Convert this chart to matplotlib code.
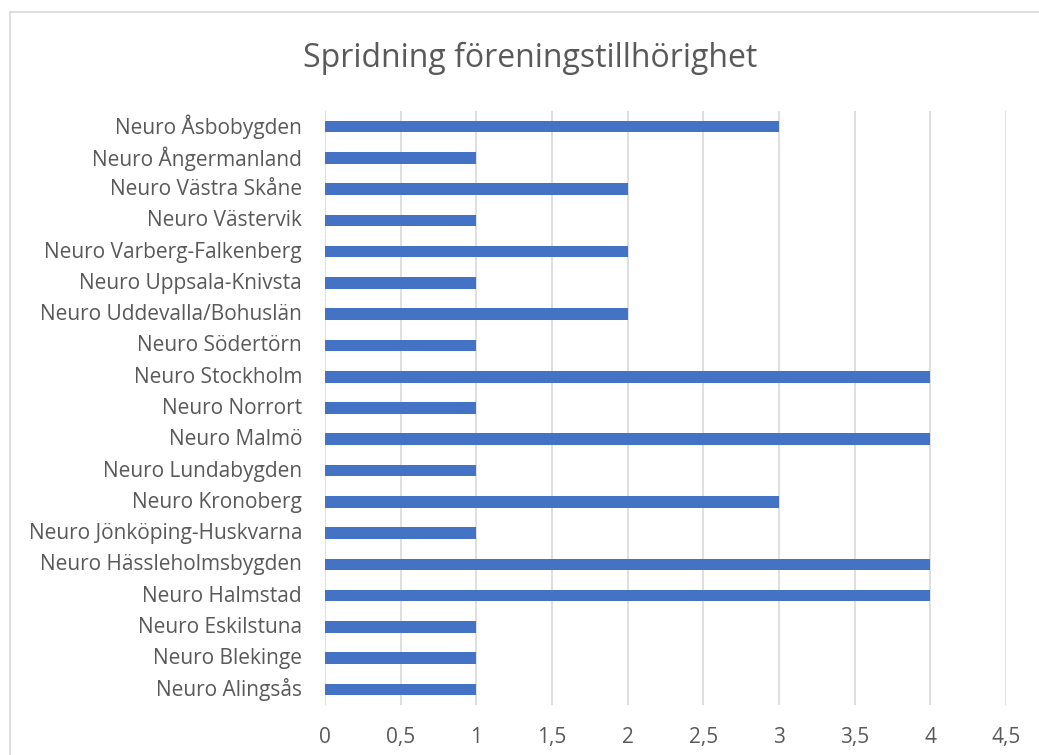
import matplotlib
matplotlib.use("Agg")
import matplotlib.pyplot as plt
import matplotlib.transforms as mtransforms
from matplotlib.patches import Rectangle

categories = [
    "Neuro Alingsås", "Neuro Blekinge", "Neuro Eskilstuna", "Neuro Halmstad",
    "Neuro Hässleholmsbygden", "Neuro Jönköping-Huskvarna", "Neuro Kronoberg",
    "Neuro Lundabygden", "Neuro Malmö", "Neuro Norrort", "Neuro Stockholm",
    "Neuro Södertörn", "Neuro Uddevalla/Bohuslän", "Neuro Uppsala-Knivsta",
    "Neuro Varberg-Falkenberg", "Neuro Västervik", "Neuro Västra Skåne",
    "Neuro Ångermanland", "Neuro Åsbobygden",
]
values = [1, 1, 1, 4, 4, 1, 3, 1, 4, 1, 4, 1, 2, 1, 2, 1, 2, 1, 3]
xticks = [0, 0.5, 1, 1.5, 2, 2.5, 3, 3.5, 4, 4.5]
xtick_labels = ["0", "0,5", "1", "1,5", "2", "2,5", "3", "3,5", "4", "4,5"]

plt.rcParams["font.family"] = ["Open Sans", "DejaVu Sans"]
text_color = "#595959"
grid_color = "#d9d9d9"

W, H = 1039, 755
fig = plt.figure(figsize=(W / 100, H / 100), dpi=100)

# chart border (outer frame, cut at right/bottom)
fig.patches.append(Rectangle((10 / W, -0.1), 1.2, 1 - 12 / H + 0.1,
                             transform=fig.transFigure, fill=False,
                             edgecolor=grid_color, lw=1.2))

ax = fig.add_axes([325 / W, 1 - 705 / H, 681 / W, 594 / H])
ax.barh(range(len(categories)), values, height=0.37, color="#4472C4", zorder=3)
ax.set_xlim(0, 4.5)
ax.set_ylim(-0.5, len(categories) - 0.5)
ax.set_xticks(xticks)
ax.set_xticklabels(xtick_labels)
ax.set_yticks(range(len(categories)))
ax.set_yticklabels(categories)
ax.grid(axis="x", color=grid_color, lw=1.2, zorder=0)
for s in ax.spines.values():
    s.set_visible(False)
ax.tick_params(length=0, colors=text_color, labelsize=15)
ax.tick_params(axis="x", pad=16)
ax.tick_params(axis="y", pad=16.5)

# nudge y labels up a little so they sit centred on the bars
shift = mtransforms.ScaledTranslation(0, 2 / 100, fig.dpi_scale_trans)
for lbl in ax.get_yticklabels():
    lbl.set_transform(lbl.get_transform() + shift)

fig.text(530 / W, 1 - 58 / H, "Spridning föreningstillhörighet",
         ha="center", va="center", fontsize=23, color=text_color)

fig.savefig("out.png", dpi=100)
